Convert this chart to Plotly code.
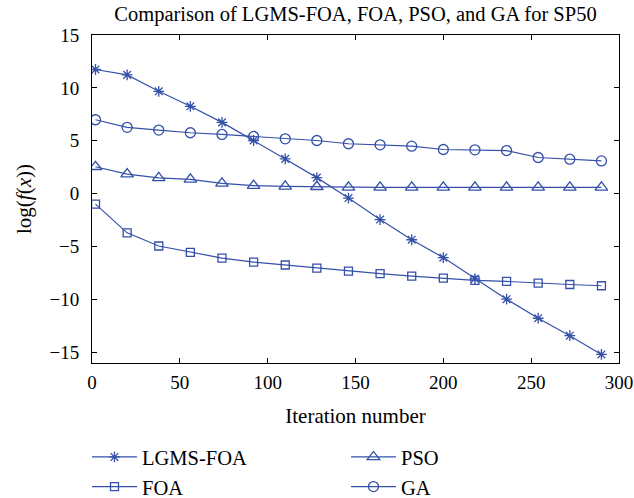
import plotly.graph_objects as go

iterations = [2, 20, 38, 56, 74, 92, 110, 128, 146, 164, 182, 200, 218, 236, 254, 272, 290]
lgms_foa = [11.74, 11.23, 9.68, 8.26, 6.74, 5.03, 3.29, 1.52, -0.41, -2.44, -4.35, -6.04, -8.04, -9.97, -11.77, -13.42, -15.19]
foa = [-0.98, -3.70, -4.94, -5.54, -6.08, -6.46, -6.74, -7.03, -7.31, -7.56, -7.78, -7.97, -8.20, -8.29, -8.45, -8.58, -8.70]
pso = [2.55, 1.85, 1.50, 1.36, 0.98, 0.76, 0.70, 0.66, 0.60, 0.60, 0.60, 0.60, 0.60, 0.60, 0.60, 0.60, 0.60]
ga = [6.99, 6.27, 6.01, 5.76, 5.60, 5.41, 5.19, 5.03, 4.72, 4.62, 4.49, 4.18, 4.15, 4.08, 3.42, 3.26, 3.10]

x_ticks = [0, 50, 100, 150, 200, 250, 300]
y_ticks = [-15, -10, -5, 0, 5, 10, 15]

color = "#3450a8"
font_family = "Liberation Serif"

fig = go.Figure()
series = [
    ("LGMS-FOA", lgms_foa, "asterisk-open", 9),
    ("PSO", pso, "triangle-up-open", 11),
    ("FOA", foa, "square-open", 8),
    ("GA", ga, "circle-open", 10),
]
for name, vals, sym, size in series:
    fig.add_trace(go.Scatter(
        x=iterations, y=vals, name=name, mode="lines+markers",
        line=dict(color=color, width=1.2),
        marker=dict(symbol=sym, size=size, color=color, line=dict(color=color, width=1.3)),
    ))

axis_common = dict(
    showgrid=False, zeroline=False, showline=True, linecolor="black", linewidth=1,
    mirror="ticks", ticks="inside", ticklen=5, tickcolor="black",
    tickfont=dict(family=font_family, size=19, color="black"),
)

fig.update_layout(
    width=634, height=498,
    margin=dict(l=92, r=15, t=35, b=135, autoexpand=False),
    paper_bgcolor="white", plot_bgcolor="white",
    font=dict(family=font_family, size=19, color="black"),
    title=dict(text="Comparison of LGMS-FOA, FOA, PSO, and GA for SP50",
               x=0.5, xanchor="center", xref="paper", y=0.972, yref="container", yanchor="middle",
               font=dict(family=font_family, size=20.5, color="black")),
    xaxis=dict(range=[0, 300], tickvals=x_ticks, ticklabelstandoff=2,
               title=dict(text="Iteration number", standoff=16,
                          font=dict(family=font_family, size=21)), **axis_common),
    yaxis=dict(range=[-16, 15], tickvals=y_ticks, ticklabelstandoff=8,
               ticktext=[("\u2212" + str(-v)) if v < 0 else str(v) for v in y_ticks],
               title=dict(text="log(<i>f</i>(<i>x</i>))", standoff=12,
                          font=dict(family=font_family, size=21)), **axis_common),
    showlegend=True,
    legend=dict(orientation="h", x=-0.0095, xanchor="left", y=-0.226, yanchor="top",
                entrywidth=199, entrywidthmode="pixels", tracegroupgap=0, itemwidth=45,
                font=dict(family=font_family, size=20.5, color="black"),
                bgcolor="rgba(0,0,0,0)"),
)

fig.write_html("out.html", config={"displayModeBar": False},
               post_script="document.body.style.margin='0';document.body.style.overflow='hidden';")
